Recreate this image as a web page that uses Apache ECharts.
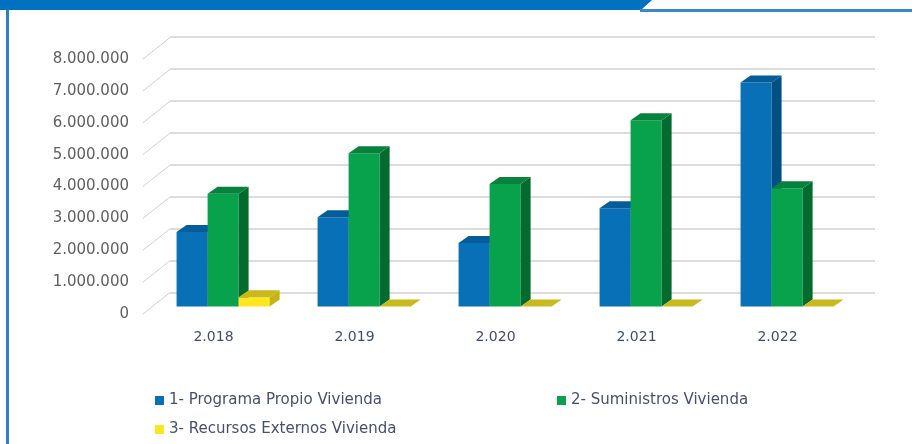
<!DOCTYPE html>
<html>
<head>
<meta charset="utf-8">
<script src="https://cdn.jsdelivr.net/npm/echarts@6/dist/echarts.min.js"></script>
<style>
html,body{margin:0;padding:0;background:#fff;}
#chart{width:912px;height:444px;}
</style>
</head>
<body>
<div id="chart"></div>
<script>
// ---- data ----
const categories = ['2.018', '2.019', '2.020', '2.021', '2.022'];
const seriesNames = ['1- Programa Propio Vivienda', '2- Suministros Vivienda', '3- Recursos Externos Vivienda'];
const programaPropio = [2340000, 2800000, 1990000, 3080000, 7030000];
const suministros = [3540000, 4810000, 3840000, 5840000, 3710000];
const recursosExternos = [290000, 0, 0, 0, 0];
const yTicks = [0, 1000000, 2000000, 3000000, 4000000, 5000000, 6000000, 7000000, 8000000];

// ---- styling / geometry constants ----
const WALL_DX = 27, WALL_DY = 21.5;   // front plane -> back wall offset
const SHIFT_X = 9.6, SHIFT_Y = 7.5;   // bar front face offset from front plane
const DEPTH_X = 10, DEPTH_Y = 7;      // bar depth
const BAR_RATIO = 0.22;
const palettes = [
  {front: '#0770B6', side: '#024F82', top: '#045C98'},
  {front: '#08A24C', side: '#046B2F', top: '#06823C'},
  {front: '#FFE61E', side: '#C4B217', top: '#C9B91C'}
];

function fmt(v) {
  return String(v).replace(/\B(?=(\d{3})+(?!\d))/g, '.');
}

function barRender(idx) {
  const c = palettes[idx];
  return function (params, api) {
    const cat = api.value(0), v = api.value(1);
    const base = api.coord([cat, 0]);
    const top = api.coord([cat, v]);
    const catW = api.size([1, 0])[0];
    const bw = catW * BAR_RATIO;
    const x0 = base[0] - 1.5 * bw + idx * bw + SHIFT_X;
    const x1 = x0 + bw;
    const yb = base[1] - SHIFT_Y;
    const yt = top[1] - SHIFT_Y;
    return {
      type: 'group',
      children: [
        {type: 'polygon', shape: {points: [[x0, yb], [x1, yb], [x1, yt], [x0, yt]]}, style: {fill: c.front}},
        {type: 'polygon', shape: {points: [[x1, yb], [x1 + DEPTH_X, yb - DEPTH_Y], [x1 + DEPTH_X, yt - DEPTH_Y], [x1, yt]]}, style: {fill: c.side}},
        {type: 'polygon', shape: {points: [[x0, yt], [x0 + DEPTH_X, yt - DEPTH_Y], [x1 + DEPTH_X, yt - DEPTH_Y], [x1, yt]]}, style: {fill: c.top}}
      ]
    };
  };
}

const valuesList = [programaPropio, suministros, recursosExternos];
const barSeries = valuesList.map((vals, i) => ({
  name: seriesNames[i],
  type: 'custom',
  xAxisIndex: 0,
  yAxisIndex: 0,
  itemStyle: {color: palettes[i].front},
  data: vals.map((v, k) => [k, v]),
  encode: {x: 0, y: 1},
  renderItem: barRender(i),
  clip: false,
  z: 5 + i
}));

const slantSeries = {
  type: 'custom',
  xAxisIndex: 0,
  yAxisIndex: 0,
  silent: true,
  data: yTicks.map(v => [0, v]),
  encode: {x: 0, y: 1},
  clip: false,
  z: 1,
  renderItem: function (params, api) {
    const p = api.coord([0, api.value(1)]);
    const x = params.coordSys.x;
    return {
      type: 'line',
      shape: {x1: x, y1: p[1], x2: x + WALL_DX, y2: p[1] - WALL_DY},
      style: {stroke: '#D0D0D0', lineWidth: 1}
    };
  }
};

const legendText = {color: '#46506E', fontSize: 15, fontFamily: 'DejaVu Sans'};

const option = {
  backgroundColor: '#ffffff',
  animation: false,
  graphic: [
    {type: 'polygon', shape: {points: [[0, 0], [652, 0], [641, 10], [0, 10]]}, style: {fill: '#0070C0'}},
    {type: 'rect', shape: {x: 640, y: 9, width: 272, height: 3}, style: {fill: '#3A87C9'}},
    {type: 'rect', shape: {x: 6, y: 10, width: 3, height: 434}, style: {fill: '#2F7FC1'}}
  ],
  grid: [
    {left: 143, right: 64, top: 59, bottom: 130},
    {left: 170, right: 37, top: 37, bottom: 151}
  ],
  xAxis: [
    {
      type: 'category', gridIndex: 0, data: categories,
      axisLine: {show: false}, axisTick: {show: false},
      axisLabel: {margin: 16, color: '#414D70', fontSize: 14, fontFamily: 'DejaVu Sans'}
    },
    {
      type: 'category', gridIndex: 1, data: categories, show: false
    }
  ],
  yAxis: [
    {
      type: 'value', gridIndex: 0, min: 0, max: 8000000, interval: 1000000,
      axisLine: {show: false}, axisTick: {show: false}, splitLine: {show: false},
      axisLabel: {margin: 14, color: '#606060', fontSize: 15, fontFamily: 'DejaVu Sans', formatter: fmt}
    },
    {
      type: 'value', gridIndex: 1, min: 0, max: 8000000, interval: 1000000,
      axisLine: {show: false}, axisTick: {show: false}, axisLabel: {show: false},
      splitLine: {show: true, lineStyle: {color: '#DCDCDC', width: 2}}
    }
  ],
  legend: [
    {data: [seriesNames[0]], left: 150, top: 388, icon: 'rect', itemWidth: 9, itemHeight: 9, itemGap: 10, textStyle: legendText},
    {data: [seriesNames[1]], left: 552, top: 388, icon: 'rect', itemWidth: 9, itemHeight: 9, itemGap: 10, textStyle: legendText},
    {data: [seriesNames[2]], left: 150, top: 417, icon: 'rect', itemWidth: 9, itemHeight: 9, itemGap: 10, textStyle: legendText}
  ],
  series: [slantSeries].concat(barSeries)
};

const chart = echarts.init(document.getElementById('chart'), null, {renderer: 'canvas'});
chart.setOption(option);
</script>
</body>
</html>
